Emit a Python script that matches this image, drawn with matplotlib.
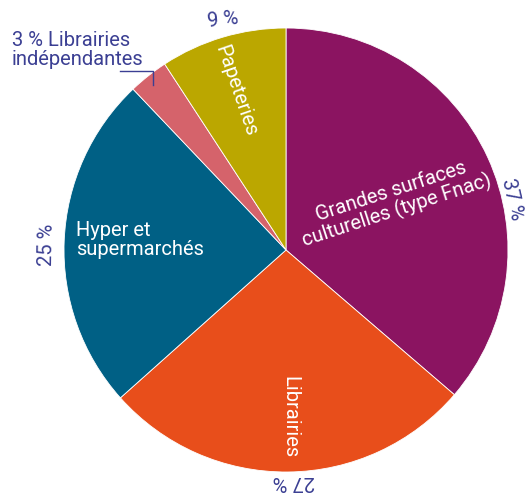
import matplotlib
matplotlib.use('Agg')
import matplotlib.pyplot as plt

categories = ['Grandes surfaces\nculturelles (type Fnac)', 'Librairies',
              'Hyper et\nsupermarchés', 'Librairies indépendantes', 'Papeteries']
shares = [36.3, 27.1, 24.5, 2.9, 9.2]
pct_labels = ['37 %', '27 %', '25 %', '3 %', '9 %']
colors = ['#8B1461', '#E84E1B', '#006085', '#D5636B', '#BBA700']

plt.rcParams['font.family'] = ['Roboto', 'DejaVu Sans']
txt_col = '#3B3F93'

fig = plt.figure(figsize=(5.28, 4.95), dpi=100)
ax = fig.add_axes([0, 0, 1, 1])
H = 495

def Y(y):
    return H - y

ax.pie(shares, colors=colors, startangle=90, counterclock=False,
       center=(286, Y(250)), radius=222,
       wedgeprops=dict(linewidth=0.6, edgecolor='white'))
ax.set_xlim(0, 528)
ax.set_ylim(0, H)
ax.set_aspect('equal')
ax.axis('off')

fs = 14.5
# inner labels
ax.text(394, Y(201), categories[0], color='white', fontsize=fs, rotation=18,
        ha='center', va='center', multialignment='center', linespacing=1.0)
ax.text(290, Y(417), categories[1], color='white', fontsize=fs, rotation=-90,
        ha='center', va='center')
ax.text(76, Y(240), categories[2], color='white', fontsize=fs,
        ha='left', va='center', linespacing=1.0)
ax.text(236, Y(91), categories[4], color='white', fontsize=fs, rotation=-71,
        ha='center', va='center')

# outer percentages
ax.text(512, Y(199), pct_labels[0], color=txt_col, fontsize=fs, rotation=-77,
        ha='center', va='center')
ax.text(294, Y(482), pct_labels[1], color=txt_col, fontsize=fs, rotation=180,
        ha='center', va='center')
ax.text(47, Y(245), pct_labels[2], color=txt_col, fontsize=fs, rotation=89,
        ha='center', va='center')
ax.text(223, Y(20), pct_labels[4], color=txt_col, fontsize=fs, rotation=6,
        ha='center', va='center')
ax.text(12, Y(50), pct_labels[3] + ' ' + categories[3].replace(' ', '\n', 1),
        color=txt_col, fontsize=fs, ha='left', va='center', linespacing=1.0)
ax.plot([120, 153, 153], [Y(71), Y(71), Y(85)], color=txt_col, lw=1)

fig.savefig('out.png', dpi=100)
